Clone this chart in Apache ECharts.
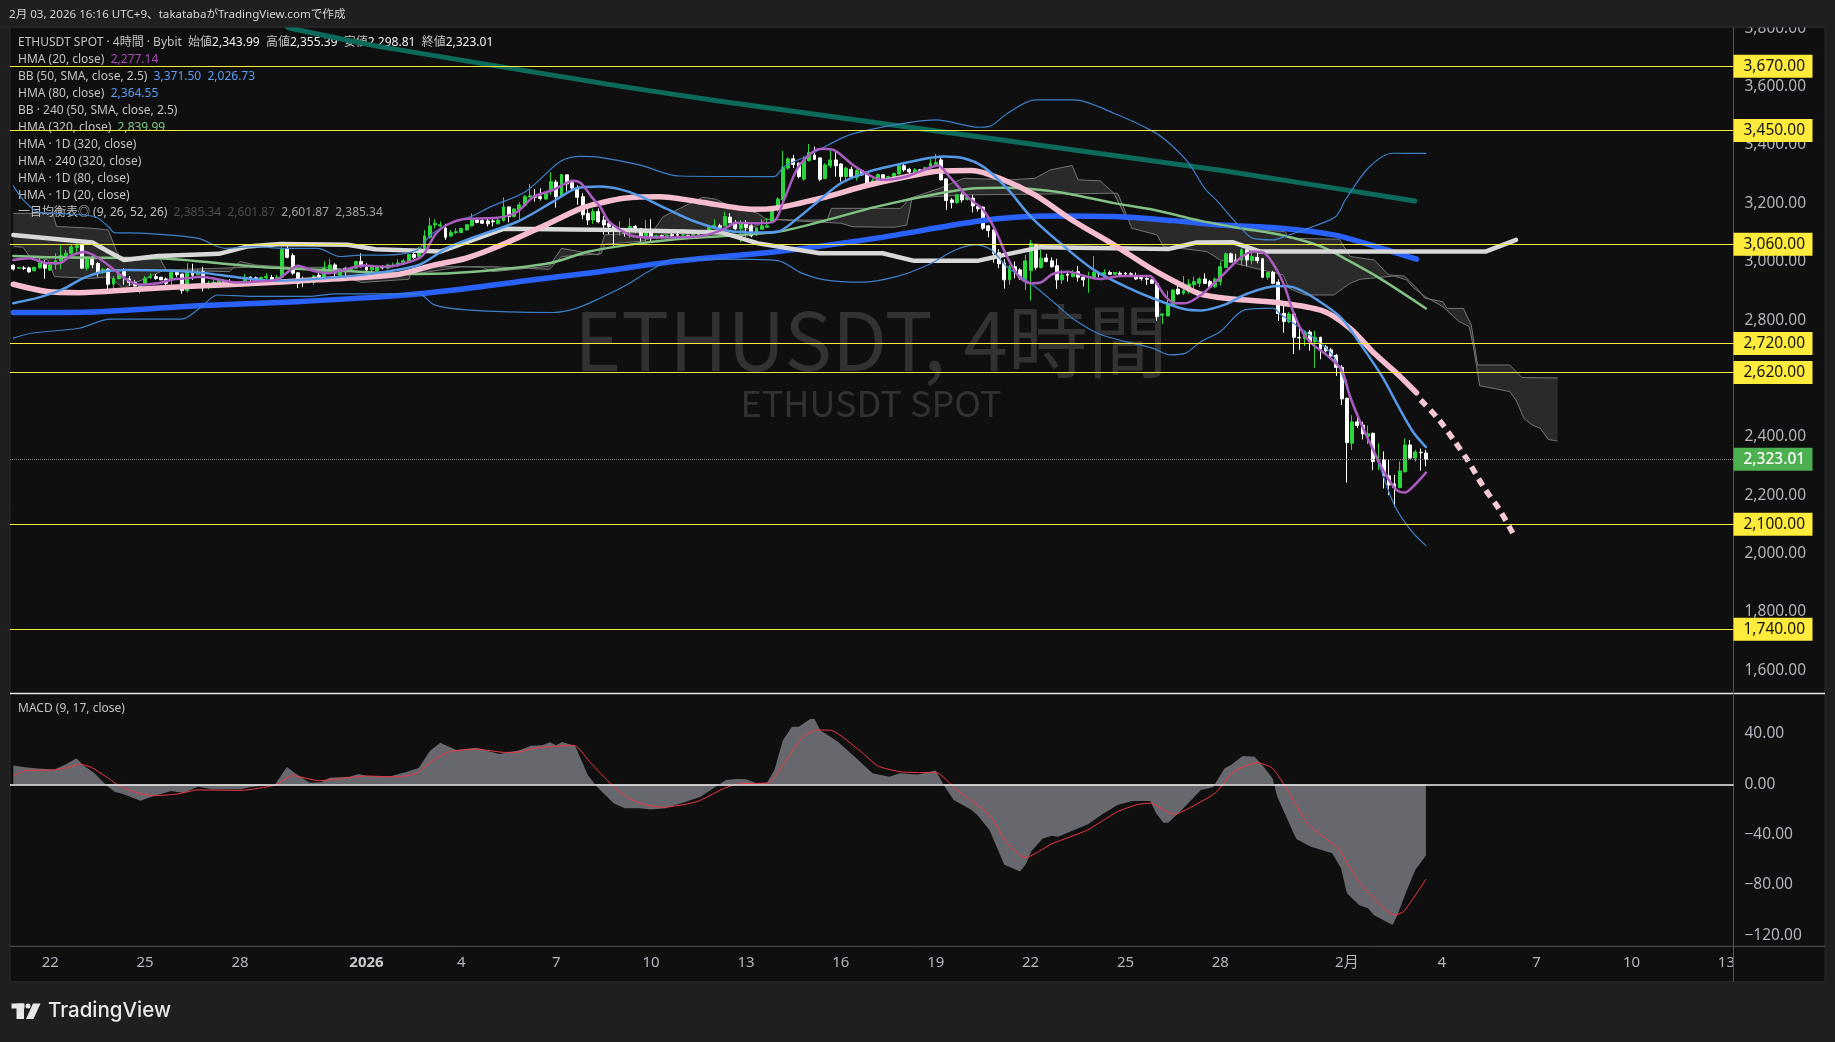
<!DOCTYPE html>
<html><head><meta charset="utf-8"><style>html,body{margin:0;padding:0;background:#1f1f1f}#c{width:1835px;height:1042px}</style>
<script src="https://cdn.jsdelivr.net/npm/echarts@6/dist/echarts.min.js"></script></head><body><div id="c"></div>
<script>
// candles: one row per 4h bar, first row is bar 0. [open, close, low, high]
const candles=[
[2988,2975,2970,2991],[2978,2980,2977,2981],[2979,2977,2972,2985],[2979,2965,2963,2983],[2969,2981,2967,2983],[2979,2996,2978,3012],[2991,2978,2942,3006],[2971,2989,2970,2995],[2991,3003,2974,3029],[3003,3022,2974,3058],
[3020,3029,3015,3041],[3029,3051,3023,3059],[3049,3055,3029,3077],[3058,2978,2975,3063],[2978,3011,2970,3018],[3010,2990,2978,3020],[2994,2961,2949,2998],[2963,2974,2958,2978],[2975,2923,2903,2978],[2923,2943,2907,2951],
[2942,2958,2940,2972],[2967,2951,2921,2978],[2941,2929,2917,2951],[2929,2917,2915,2938],[2911,2919,2891,2924],[2924,2943,2921,2951],[2946,2948,2942,2961],[2949,2943,2938,2958],[2947,2938,2938,2947],[2941,2926,2915,2946],
[2938,2963,2917,2972],[2963,2956,2947,2970],[2958,2901,2890,2958],[2901,2966,2895,2995],[2965,2954,2938,2993],[2956,2965,2954,2974],[2966,2926,2898,2983],[2922,2926,2906,2935],[2926,2930,2915,2938],[2924,2935,2922,2938],
[2933,2931,2929,2938],[2931,2929,2924,2940],[2927,2926,2924,2930],[2925,2926,2917,2926],[2934,2947,2932,2958],[2947,2942,2935,2951],[2945,2940,2931,2949],[2940,2946,2935,2949],[2945,2950,2940,2961],[2946,2929,2924,2955],
[2931,2947,2926,2955],[2947,3044,2943,3050],[3046,3015,3012,3055],[3021,2961,2955,3029],[2962,2926,2910,2964],[2941,2935,2913,2949],[2931,2940,2926,2942],[2929,2951,2921,2955],[2954,2949,2940,2961],[2949,2979,2947,3001],
[2967,2989,2961,3009],[2989,2970,2945,2995],[2954,2974,2951,2976],[2977,2970,2955,2983],[2972,2977,2970,2979],[2978,3001,2974,3003],[3001,2983,2981,3029],[2981,2972,2958,2995],[2972,2981,2966,2986],[2969,2983,2967,2985],
[2983,2979,2974,2988],[2978,2989,2974,2993],[2986,2988,2981,2997],[2989,2996,2983,3009],[2997,3003,2995,3010],[3001,3025,2997,3027],[3025,3015,3010,3031],[3018,3046,3015,3050],[3046,3089,3041,3109],[3084,3123,3079,3151],
[3126,3132,3114,3146],[3123,3127,3118,3138],[3115,3084,3075,3130],[3089,3100,3084,3109],[3100,3103,3095,3115],[3100,3114,3098,3116],[3109,3127,3107,3129],[3123,3146,3121,3166],[3143,3135,3132,3150],[3141,3132,3130,3146],
[3140,3130,3121,3148],[3140,3137,3121,3146],[3130,3143,3129,3149],[3141,3188,3138,3221],[3188,3155,3135,3188],[3155,3181,3153,3183],[3178,3195,3139,3204],[3193,3223,3189,3229],[3222,3226,3220,3267],[3227,3221,3206,3249],
[3223,3217,3210,3252],[3215,3238,3213,3240],[3246,3275,3229,3307],[3273,3223,3186,3281],[3223,3299,3221,3301],[3298,3267,3241,3298],[3271,3253,3246,3278],[3253,3221,3195,3262],[3223,3161,3146,3235],[3166,3143,3126,3180],
[3143,3172,3130,3182],[3172,3137,3132,3183],[3143,3126,3093,3157],[3132,3121,3095,3137],[3123,3107,3055,3123],[3107,3109,3089,3139],[3109,3098,3086,3115],[3107,3121,3081,3149],[3121,3109,3100,3126],[3113,3084,3069,3116],
[3089,3111,3063,3143],[3111,3082,3069,3146],[3082,3089,3077,3093],[3089,3084,3079,3093],[3084,3091,3082,3093],[3093,3089,3084,3098],[3093,3091,3086,3106],[3091,3093,3089,3095],[3091,3084,3079,3093],[3089,3093,3084,3100],
[3091,3095,3089,3097],[3100,3107,3098,3109],[3102,3118,3100,3126],[3116,3125,3114,3146],[3123,3118,3102,3130],[3123,3155,3121,3172],[3153,3134,3132,3166],[3129,3114,3109,3143],[3114,3130,3067,3143],[3132,3118,3086,3143],
[3123,3089,3084,3130],[3092,3116,3089,3118],[3111,3123,3109,3146],[3118,3123,3118,3149],[3137,3185,3132,3189],[3181,3215,3172,3221],[3212,3324,3206,3381],[3321,3353,3315,3358],[3353,3333,3321,3366],[3338,3292,3286,3340],
[3283,3347,3278,3361],[3347,3374,3343,3404],[3366,3351,3349,3395],[3356,3283,3277,3358],[3285,3332,3283,3338],[3329,3349,3321,3386],[3349,3329,3292,3378],[3335,3292,3275,3338],[3292,3321,3278,3326],[3317,3292,3290,3326],
[3290,3313,3278,3317],[3313,3298,3294,3317],[3301,3258,3252,3308],[3262,3278,3258,3286],[3271,3299,3267,3303],[3298,3286,3283,3299],[3289,3292,3286,3295],[3287,3303,3285,3305],[3301,3329,3299,3332],[3329,3315,3309,3335],
[3317,3308,3300,3322],[3301,3315,3299,3321],[3315,3308,3303,3318],[3307,3322,3303,3326],[3322,3338,3317,3351],[3333,3340,3329,3370],[3349,3281,3278,3358],[3284,3210,3178,3286],[3212,3203,3183,3218],[3203,3229,3198,3233],
[3229,3212,3203,3237],[3214,3221,3210,3229],[3218,3191,3169,3229],[3189,3182,3172,3194],[3187,3115,3109,3191],[3123,3107,3084,3126],[3109,3029,2997,3111],[3031,2993,2978,3043],[2995,2938,2908,3009],[2938,2983,2921,2989],
[2983,2966,2943,3001],[2972,2945,2938,2978],[2938,3003,2903,3023],[2970,3063,2867,3075],[3060,2981,2972,3060],[2980,3012,2977,3041],[3013,3001,2998,3027],[3003,2983,2980,3015],[2986,2938,2907,3010],[2938,2955,2924,2972],
[2957,2954,2932,2961],[2949,2963,2947,2972],[2966,2947,2932,2986],[2947,2938,2915,2955],[2947,2949,2894,2966],[2947,2963,2943,3020],[2961,2958,2947,2966],[2956,2963,2954,2974],[2963,2957,2955,2970],[2957,2963,2956,2964],
[2961,2957,2947,2967],[2961,2958,2954,2965],[2959,2957,2949,2964],[2951,2941,2938,2963],[2946,2942,2935,2951],[2943,2940,2921,2947],[2938,2926,2924,2942],[2926,2812,2798,2932],[2817,2821,2787,2823],[2814,2855,2814,2901],
[2851,2903,2849,2906],[2906,2890,2886,2938],[2892,2901,2886,2951],[2898,2924,2890,2940],[2921,2932,2898,2949],[2926,2941,2913,2947],[2941,2926,2924,2961],[2932,2913,2909,2938],[2915,2940,2909,2946],[2932,2983,2918,3001],
[2980,3027,2978,3031],[3027,2999,2997,3031],[3006,3001,2997,3027],[3006,3041,2987,3046],[3041,3006,2986,3046],[3004,3018,2991,3035],[3015,3004,2995,3035],[3010,2947,2943,3012],[2947,2963,2938,2966],[2964,2926,2923,2969],
[2930,2823,2797,2940],[2823,2795,2757,2863],[2795,2821,2789,2828],[2821,2741,2684,2826],[2741,2739,2698,2775],[2737,2757,2711,2766],[2759,2726,2695,2766],[2726,2741,2637,2763],[2741,2700,2666,2743],[2708,2695,2689,2715],
[2698,2677,2673,2705],[2679,2638,2609,2684],[2638,2530,2509,2646],[2532,2380,2243,2534],[2378,2451,2355,2474],[2451,2439,2430,2483],[2440,2410,2391,2452],[2401,2410,2375,2439],[2412,2315,2286,2414],[2314,2321,2286,2378],
[2321,2266,2223,2350],[2266,2235,2200,2323],[2238,2227,2160,2269],[2226,2283,2223,2316],[2280,2372,2278,2395],[2372,2327,2325,2389],[2327,2348,2315,2355],[2347,2346,2284,2360],[2343.99,2323.01,2298.81,2355.39]];

// indicator lines: [bar, price]
const hma20=[[0,3006],[3,3012],[6.4,2995],[8.7,2995],[10.9,3020],[13.5,3033],[16.2,3012],[19.2,2972],[21.4,2940],[24,2921],[27.4,2926],[30.4,2940],[32.7,2943],[35.7,2949],[38.7,2940],[42.4,2929],[46.2,2932],[49.9,2938],[51.8,2961],[54,2986],[56.7,2970],[59.7,2961],[62.7,2972],[66.4,2987],[70.6,2983],[75.4,3001],[77.7,3023],[80,3092],[82.2,3126],[86,3147],[89.7,3149],[92.7,3153],[95.7,3172],[98.7,3223],[102.4,3246],[106.2,3278],[107.7,3269],[109.9,3218],[111.3,3190],[112.9,3140],[114.7,3115],[117.3,3089],[121,3083],[126.3,3084],[130.8,3089],[134.5,3109],[137.2,3134],[141.3,3132],[144.3,3138],[146.2,3212],[148.8,3321],[151.8,3378],[153.7,3387],[155.9,3381],[159.3,3332],[162.3,3298],[164.6,3281],[166.8,3283],[169.8,3294],[172.8,3315],[175.4,3330],[177.3,3298],[181,3223],[184,3178],[186.3,3109],[188.5,3018],[190.8,2949],[193,2926],[194.9,2929],[197.2,2958],[200.2,2966],[203.2,2951],[206.2,2941],[210.3,2951],[215.6,2951],[216.7,2932],[218.6,2881],[220.4,2858],[222.3,2858],[225.3,2886],[227,2913],[229.5,2955],[232.7,3012],[235.2,3035],[237.4,3029],[239.7,2972],[241.2,2915],[242.8,2829],[244.7,2755],[246.6,2715],[249.2,2680],[252,2629],[253.6,2538],[255.5,2452],[258,2355],[260.2,2275],[262.4,2218],[264,2209],[265.6,2230],[268,2277.14]];
const hma80=[[0,2858],[4.9,2878],[9.4,2906],[13.2,2943],[16.9,2966],[21.4,2972],[28.9,2970],[36.4,2961],[42.4,2947],[49.9,2935],[58.9,2943],[68.7,2961],[76.9,2989],[82.2,3046],[87.4,3084],[95.7,3138],[102.4,3206],[106.9,3252],[111.3,3258],[115,3249],[118.8,3226],[124,3181],[129.3,3138],[135.3,3107],[141.3,3100],[145,3103],[148.8,3149],[152.6,3206],[157,3269],[162.3,3309],[167.5,3332],[173.5,3355],[176.6,3361],[180.3,3355],[184,3326],[188.5,3252],[193,3155],[199,3058],[205,2972],[211,2915],[217,2869],[222.3,2837],[225.3,2833],[229.7,2852],[234.3,2892],[239.7,2917],[242.8,2913],[247.4,2869],[252,2806],[255.9,2709],[259.7,2606],[262.8,2503],[265.5,2418],[268,2364.55]];
const bbUpper=[[0,3260],[1.9,3212],[4.5,3172],[7.9,3166],[15.4,3155],[18,3121],[19.2,3100],[24.4,3098],[34.9,3081],[40.2,3046],[45.4,3052],[51.3,3046],[57.7,3046],[62,3018],[65.9,3023],[70.3,3023],[76.6,3040],[79.2,3092],[83,3132],[86.8,3155],[90.6,3189],[97.2,3241],[103.9,3345],[107.7,3361],[111.3,3358],[118.8,3332],[126.3,3294],[144.3,3292],[146.2,3326],[151,3366],[157.8,3429],[162.3,3452],[169.8,3477],[175,3486],[183.3,3461],[185.5,3466],[188.5,3507],[193.8,3555],[201.3,3555],[208.8,3509],[216.3,3446],[219.3,3406],[223,3338],[226,3252],[228.2,3212],[232.4,3126],[235.1,3081],[239,3075],[241.6,3089],[246.6,3121],[250.9,3155],[252.8,3215],[257.2,3324],[261.7,3372],[268,3371.5]];
const bbLower=[[0,2738],[3.4,2755],[12.4,2772],[18.4,2803],[31.9,2803],[35.7,2846],[38.7,2886],[45.4,2881],[55.9,2881],[61.2,2890],[76.9,2890],[79.9,2852],[85.9,2835],[102.4,2826],[106.9,2841],[111.3,2875],[115.8,2915],[121,2972],[125.5,3009],[135.3,3009],[145,3004],[149.6,2961],[154,2938],[160.8,2930],[167.5,2949],[173.5,2989],[178.8,3041],[182.5,3058],[185.5,3041],[188.5,2983],[193,2926],[197.6,2858],[201.3,2801],[206.5,2749],[216.3,2703],[219.3,2681],[222.3,2686],[225.3,2726],[229,2761],[233.6,2835],[239,2841],[240.5,2818],[245.1,2761],[250.5,2675],[254.3,2503],[259,2309],[262,2166],[265.1,2080],[268,2026.73]];
const hmaPink=[[0,2923],[6.4,2898],[12.4,2894],[23.7,2906],[34.9,2917],[46.2,2926],[57.4,2938],[72.4,2955],[79.9,2989],[85.9,3012],[92.7,3058],[101.7,3132],[107.7,3183],[111.3,3201],[115.8,3218],[122.6,3223],[130,3206],[140.6,3180],[144.3,3183],[153.3,3218],[162.3,3263],[171.3,3298],[175.8,3311],[181.8,3313],[187.8,3281],[193.8,3229],[201.3,3138],[208.8,3058],[216.3,2972],[221.5,2921],[225.1,2890],[230,2875],[239.7,2860],[248.2,2833],[253.6,2772],[258.2,2686],[262.8,2612],[266.2,2551]];
const pinkDashed=[[267,2526],[270.5,2458],[273.5,2383],[275.9,2320],[278.9,2229],[282,2149],[284.5,2069]];
const hma320=[[0,3020],[8.7,3015],[27.4,3012],[46.2,2983],[61.2,2970],[76.9,2958],[87.4,2966],[101.7,2995],[109.2,3035],[118.8,3063],[128.5,3081],[145,3103],[153.3,3138],[163.8,3189],[175.8,3235],[182.5,3252],[187.8,3254],[197.6,3241],[208.8,3201],[216.3,3178],[225.1,3141],[232.8,3115],[240.5,3092],[248.2,3052],[253.6,3001],[259.7,2938],[268,2839.99]];
const hmaDayBlue=[[0,2826],[16.2,2829],[34.9,2849],[53.7,2863],[72.4,2883],[83.7,2903],[98.7,2938],[111.3,2966],[126.3,3003],[145,3035],[163.8,3081],[182.5,3138],[190.8,3153],[197.6,3157],[208.8,3155],[220,3141],[228.9,3126],[240.5,3115],[250.5,3092],[257.4,3058],[266.2,3009]];
const hmaWhite=[[0,3092],[15,3066],[18,3035],[21,3006],[27.4,3020],[39,3027],[44.3,3052],[50.7,3061],[63.4,3058],[68.7,3043],[81,3035],[93,3113],[115,3109],[134.5,3100],[141.3,3063],[153,3029],[164.9,3029],[170.9,3003],[182.9,3003],[188.9,3027],[194.9,3050],[219.3,3044],[224.5,3066],[231.3,3067],[236.6,3035],[279.3,3035],[285.1,3075]];
const hmaTeal=[[52,3804],[52.6,3800],[68.7,3740],[115,3602],[133.8,3551],[229,3314],[265.9,3208]];
const spanA=[[0,3052],[1.8,3050],[3.1,3018],[6.6,3006],[7.8,2949],[14.8,2943],[18.3,2949],[20.8,2909],[28.7,2972],[41,2966],[43,3001],[46,2989],[51,2983],[60,2966],[66,2929],[75,2940],[76,2983],[91,2983],[101.7,2974],[104,3018],[111.5,3027],[112.2,3060],[119,3070],[127,3111],[136,3092],[141.3,3125],[142.8,3146],[148.8,3140],[157,3132],[159.3,3120],[167.2,3118],[169.5,3126],[170.5,3218],[180,3229],[209.5,3235],[210.3,3201],[212.2,3115],[217,3092],[218.2,3052],[221.5,3046],[226.4,3035],[229,3006],[240.9,2955],[242,2909],[245.1,2886],[250.5,2886],[253.6,2926],[255.5,2940],[262,2951],[264.3,2938],[265.5,2913],[267.8,2881],[271.2,2846],[274.3,2795],[276.2,2778],[277,2709],[278.2,2575],[283.9,2555],[285.1,2526],[286.6,2463],[288.2,2440],[289.7,2429],[291.2,2391],[293,2385.34]];
const spanB=[[0,3166],[7.5,3166],[8.2,3121],[14.8,3115],[18,3109],[19.6,3035],[20.8,3001],[27.8,3012],[29,2972],[45,2981],[60,2981],[66,2965],[75,2955],[85,2983],[89,2981],[91,2966],[101.7,2985],[104,3046],[111,3023],[112.2,3092],[121.3,3103],[123.3,3155],[130.8,3221],[133.4,3214],[136,3189],[141.3,3166],[142.8,3146],[148.8,3143],[154.4,3143],[155.2,3183],[168.3,3183],[170.2,3218],[175.8,3252],[180.3,3286],[189.3,3281],[193.8,3286],[196.8,3315],[200.9,3330],[202,3281],[206.2,3277],[208.8,3235],[211,3155],[225,3126],[236,3110],[241.3,3103],[242,3081],[251.6,3077],[253.6,3018],[258.2,3006],[260.9,2955],[263.9,2951],[266.6,2903],[267.8,2875],[271.2,2863],[272,2840],[275.1,2840],[276.6,2783],[277.8,2646],[283.9,2646],[286.2,2603],[293,2601.87]];
const macdHist=[[0,15],[2.3,13.5],[4.6,12.5],[7.8,11.7],[10,16],[12,20.7],[13.2,15.4],[15.4,8.7],[17.6,-0.5],[19.2,-6],[20.8,-7.7],[24.1,-13],[26.8,-9],[30,-5.3],[32.3,-7],[35,-2],[37.7,-4],[43.2,-4],[44.8,-2.4],[49.7,0],[51.9,13.8],[53.5,8.7],[56.2,1.3],[58.4,1.6],[60,5.3],[63.8,6],[65.5,8.2],[67.1,6.6],[71.5,6.4],[74.7,10],[76.9,13],[79.1,26.8],[81,33],[84,27.3],[87.8,29],[92.2,24],[96,27],[98.2,30.7],[100.3,31],[101.8,33.4],[103,31],[104.1,33.7],[106.6,30.5],[109,7.4],[110.7,-2],[113.9,-15],[116,-19],[118.8,-19],[121,-20],[123.7,-19],[127,-14.6],[130.3,-10],[135.2,3.4],[137.4,4.2],[139,4],[141,0.8],[143,1.3],[144.4,11.4],[146,35],[147.7,45.8],[149,45.8],[151.2,52],[152,52],[153.1,43],[156.4,34],[160.4,19],[163,8.7],[166.2,6],[168.2,8.7],[171.6,7.7],[175,10.9],[176.7,-1.9],[178.4,-12.5],[181.8,-20.4],[182.9,-24.4],[185.2,-36.3],[188,-64],[191,-69.4],[192.2,-62.8],[193.1,-53.5],[195.3,-43],[197,-41],[198.2,-41.6],[201.6,-35.8],[203.8,-32],[206.7,-23.6],[209.5,-16.4],[212.3,-13.2],[215.7,-13.2],[216.8,-23],[218.2,-30.5],[219.1,-30.5],[221.4,-21.7],[225.3,-4.5],[227.6,-2.4],[229.8,12.7],[231,15.4],[233.2,22.5],[235.5,22],[237.2,14],[238.9,4.8],[239.8,-9.8],[241.5,-25.7],[243.4,-43.5],[246.2,-49.6],[250.2,-54.9],[251.9,-66.8],[253,-86.7],[255.3,-96],[257,-98.6],[258.1,-104],[260.4,-109],[261.7,-111.8],[262.6,-104],[264.3,-85],[266,-68],[268,-56.7]];
const macdSignal=[[0,6.6],[2.3,10.9],[7.8,11.4],[10.5,13.5],[12.7,16],[14.8,13.5],[17.6,6],[19.7,0],[23.6,-7],[26.8,-9],[31.2,-7.7],[35,-4.5],[43.2,-4.8],[49.7,-0.5],[53,6.9],[57.9,2.9],[62.8,5],[67.1,6.6],[72.6,5.8],[76.4,8.7],[80.2,20.7],[82.9,26],[87.8,28],[93.2,25.4],[95.4,25.4],[98.7,28.6],[106.3,31],[109.6,16.7],[113.4,0.3],[116.7,-11],[120,-16.4],[123.2,-18.3],[129.7,-13.8],[134.6,-3.7],[137.4,0.3],[143.3,1.3],[146,15.4],[149.9,38],[152.6,43.2],[155.3,42.7],[160.8,26],[164,14.6],[168.2,10],[171.6,9.3],[175,9.5],[179,-4.5],[185.2,-24.4],[188.6,-47],[192,-58.3],[197,-47.4],[203.8,-36.3],[209.5,-21.7],[213.4,-16],[215.7,-15],[220.2,-23.9],[223.6,-17.8],[228.1,-6.6],[231.5,10],[236,17.2],[238.9,12.7],[241.7,-4.5],[245.7,-32],[251.3,-50.9],[255.3,-77.4],[262.1,-103.9],[263.8,-101],[268,-75.5]];

const priceLevels=[3670,3450,3060,2720,2620,2100,1740];
const lastPrice=2323.01;
const priceTicks=[3800,3600,3400,3200,3000,2800,2400,2200,2000,1800,1600];
const macdTicks=[40,0,-40,-80,-120];
const timeTickBars=[7,25,43,67,85,103,121,139,157,175,193,211,229,253,271,289,307,325];
const timeTickLabels=['22','25','28','2026','4','7','10','13','16','19','22','25','28','2月','4','7','10','13'];

const F='"Noto Sans","Noto Sans CJK JP",sans-serif';
const fmt=v=>v.toLocaleString('en-US',{minimumFractionDigits:2,maximumFractionDigits:2});
const chart=echarts.init(document.getElementById('c'),null,{renderer:'canvas'});

const legendRows=[
 [['ETHUSDT SPOT · 4時間 · Bybit  始値','l'],['2,343.99','w'],['  高値','l'],['2,355.39','w'],['  安値','l'],['2,298.81','w'],['  終値','l'],['2,323.01','w']],
 [['HMA (20, close)  ','l'],['2,277.14','p']],
 [['BB (50, SMA, close, 2.5)  ','l'],['3,371.50  2,026.73','b']],
 [['HMA (80, close)  ','l'],['2,364.55','b']],
 [['BB · 240 (50, SMA, close, 2.5)','l']],
 [['HMA (320, close)  ','l'],['2,839.99','g']],
 [['HMA · 1D (320, close)','l']],
 [['HMA · 240 (320, close)','l']],
 [['HMA · 1D (80, close)','l']],
 [['HMA · 1D (20, close)','l']],
 [['一目均衡表◎ (9, 26, 52, 26)  ','l'],['2,385.34  2,601.87','d'],['  2,601.87  2,385.34','m']]
];
const richStyles={l:{fill:'#c2c2c2'},w:{fill:'#f0f0f0'},p:{fill:'#ab47bc'},b:{fill:'#5b9cf6'},g:{fill:'#81c784'},d:{fill:'#4c4c4c'},m:{fill:'#a0a0a0'}};
Object.values(richStyles).forEach(s=>{s.fontSize=12;s.fontFamily=F;});
const legendGraphics=legendRows.map((row,i)=>({type:'text',z:3,silent:true,x:18,y:42.5+17*i,style:{
  text:row.map(([t,k])=>`{${k}|${t}}`).join(''),rich:richStyles,verticalAlign:'middle',font:'12px '+F,fill:'#c2c2c2'}}));

const line=(data,color,width,extra)=>Object.assign({type:'line',data,showSymbol:false,symbol:'none',silent:true,smooth:0.3,
  lineStyle:{color,width,cap:'round',join:'round'},xAxisIndex:0,yAxisIndex:0,animation:false},extra||{});

const cloudSeries={type:'custom',xAxisIndex:0,yAxisIndex:0,silent:true,animation:false,data:[[0,3000]],
  renderItem(params,api){
    const a=spanA.map(p=>api.coord(p));const b=spanB.map(p=>api.coord(p));
    return {type:'group',children:[
      {type:'polygon',shape:{points:a.concat(b.slice().reverse())},style:{fill:'#2a2a2a',stroke:null}},
      {type:'polyline',shape:{points:a},style:{fill:null,stroke:'#747474',lineWidth:1}},
      {type:'polyline',shape:{points:b},style:{fill:null,stroke:'#747474',lineWidth:1}}
    ]};
  }};

chart.setOption({
 animation:false,backgroundColor:'#1f1f1f',
 graphic:{elements:[
  {type:'rect',z:-10,silent:true,shape:{x:10,y:27,width:1815,height:954.7},style:{fill:'#0f0f0f',stroke:'#2a2a2a',lineWidth:1}},
  {type:'text',z:-5,silent:true,x:871,y:341,style:{text:'ETHUSDT, 4時間',fill:'#323232',font:'80px "Noto Sans CJK JP"',align:'center',verticalAlign:'middle'}},
  {type:'text',z:-5,silent:true,x:871,y:403,style:{text:'ETHUSDT SPOT',fill:'#323232',font:'36px "Noto Sans CJK JP"',align:'center',verticalAlign:'middle'}},
  ...legendGraphics,
  {type:'text',z:3,silent:true,x:18,y:708.5,style:{text:'MACD (9, 17, close)',fill:'#c2c2c2',font:'12px '+F,verticalAlign:'middle'}},
  {type:'line',z:1,silent:true,shape:{x1:10,y1:693.5,x2:1825,y2:693.5},style:{stroke:'#e8e8e8',lineWidth:1.5}},
  {type:'line',z:1,silent:true,shape:{x1:10,y1:946.3,x2:1825,y2:946.3},style:{stroke:'#555',lineWidth:1}},
  {type:'line',z:1,silent:true,shape:{x1:1733.5,y1:27,x2:1733.5,y2:981.5},style:{stroke:'#555',lineWidth:1}},
  {type:'rect',z:50,silent:true,shape:{x:0,y:0,width:1835,height:27},style:{fill:'#1f1f1f'}},
  {type:'rect',z:50,silent:true,shape:{x:0,y:26.5,width:1825,height:1},style:{fill:'#2a2a2a'}},
  {type:'text',z:51,silent:true,x:9,y:15,style:{text:'2月 03, 2026 16:16 UTC+9、takatabaがTradingView.comで作成',fill:'#d4d4d4',font:'11.6px '+F,verticalAlign:'middle'}},
  {type:'rect',z:51,silent:true,shape:{x:11.5,y:1003.5,width:13,height:5},style:{fill:'#e8e8e8'}},
  {type:'rect',z:51,silent:true,shape:{x:16.5,y:1003.5,width:7.5,height:15.5},style:{fill:'#e8e8e8'}},
  {type:'circle',z:51,silent:true,shape:{cx:28,cy:1006,r:2.5},style:{fill:'#e8e8e8'}},
  {type:'polygon',z:51,silent:true,shape:{points:[[33,1003.5],[40.5,1003.5],[33.5,1019],[26,1019]]},style:{fill:'#e8e8e8'}},
  {type:'text',z:51,silent:true,x:48,y:1011,style:{text:'TradingView',fill:'#e8e8e8',font:'500 20.5px Inter, "Noto Sans", sans-serif',verticalAlign:'middle'}}
 ]},
 grid:[{left:10,right:101.5,top:27,height:666.5,show:false},{left:10,right:101.5,top:693.5,height:252.8,show:false}],
 xAxis:[
  {type:'value',gridIndex:0,min:-0.63,max:326.35,axisLine:{show:false},axisTick:{show:false},axisLabel:{show:false},splitLine:{show:false}},
  {type:'value',gridIndex:1,min:-0.63,max:326.35,axisLine:{show:false},axisTick:{show:false},splitLine:{show:false},
   axisLabel:{customValues:timeTickBars,color:'#b2b5be',fontSize:15,fontFamily:F,margin:9,showMinLabel:true,showMaxLabel:true,hideOverlap:false,
    formatter:v=>{const s=timeTickLabels[timeTickBars.indexOf(v)]||'';return s==='2026'?'{b|2026}':s;},rich:{b:{fontWeight:'bold',fontSize:15,color:'#c8cad0',fontFamily:F}}}}
 ],
 yAxis:[
  {type:'value',gridIndex:0,position:'right',min:1520,max:3804.7,axisLine:{show:false},axisTick:{show:false},splitLine:{show:false},
   axisLabel:{customValues:priceTicks,color:'#b2b5be',fontSize:15.5,fontFamily:F,margin:11,align:'left',formatter:v=>fmt(v),showMaxLabel:true,showMinLabel:true,hideOverlap:false}},
  {type:'value',gridIndex:1,position:'right',min:-128.8,max:72.2,axisLine:{show:false},axisTick:{show:false},splitLine:{show:false},
   axisLabel:{customValues:macdTicks,color:'#b2b5be',fontSize:15.5,fontFamily:F,margin:11,align:'left',formatter:v=>fmt(v).replace('-','−'),hideOverlap:false}}
 ],
 series:[
  cloudSeries,
  line(hmaTeal,'#0b6a5a',5,{smooth:0.1}),
  line(hmaDayBlue,'#2962ff',5.5),
  line(hma320,'#82c184',2.5),
  line(hmaWhite,'#d8d8d8',4.5,{smooth:false}),
  line(hmaPink,'#f6bdcf',5.5),
  line(pinkDashed,'#f6c9d2',5.5,{lineStyle:{color:'#f6c9d2',width:5.5,type:[8,6],cap:'butt'}}),
  line(bbUpper,'#3d7fc9',1.2),
  line(bbLower,'#3d7fc9',1.2),
  {type:'candlestick',xAxisIndex:0,yAxisIndex:0,silent:true,animation:false,barWidth:3.4,
   data:candles.map((c,i)=>[i,c[0],c[1],c[2],c[3]]),
   itemStyle:{color:'#2ad63c',color0:'#ffffff',borderColor:'#2ad63c',borderColor0:'#ffffff',borderWidth:1}},
  line(hma80,'#5599e8',2.5),
  line(hma20,'#ab5cc0',2.5),
  {type:'line',data:[],xAxisIndex:0,yAxisIndex:0,z:4,silent:true,markLine:{silent:true,symbol:'none',animation:false,precision:2,
    lineStyle:{color:'#8a8a8a',width:1,type:'dotted'},
    label:{position:'end',distance:0,formatter:p=>fmt(p.value),backgroundColor:'#4caf50',color:'#fff',fontSize:15.5,fontFamily:F,fontWeight:500,width:69,height:23,lineHeight:23,padding:[0,0,0,10],align:'left',verticalAlign:'middle'},
    data:[{yAxis:lastPrice}]}},
  {type:'line',data:[],xAxisIndex:0,yAxisIndex:0,z:5,silent:true,markLine:{silent:true,symbol:'none',animation:false,precision:2,
    lineStyle:{color:'#ffe93b',width:1.2,type:'solid'},
    label:{position:'end',distance:0,formatter:p=>fmt(p.value),backgroundColor:'#ffeb3b',color:'#131313',fontSize:15.5,fontFamily:F,width:69,height:23,lineHeight:23,padding:[0,0,0,10],align:'left',verticalAlign:'middle'},
    data:priceLevels.map(v=>({yAxis:v}))}},
  {type:'line',xAxisIndex:1,yAxisIndex:1,data:macdHist,showSymbol:false,symbol:'none',silent:true,animation:false,
   lineStyle:{width:0},areaStyle:{color:'#66686d',opacity:1,origin:0},
   markLine:{silent:true,symbol:'none',animation:false,label:{show:false},lineStyle:{color:'#f0f0f0',width:1.5,type:'solid'},data:[{yAxis:0}]}},
  {type:'line',xAxisIndex:1,yAxisIndex:1,data:macdSignal,showSymbol:false,symbol:'none',silent:true,animation:false,smooth:0.2,lineStyle:{color:'#f23645',width:1}}
 ]
});
</script></body></html>
